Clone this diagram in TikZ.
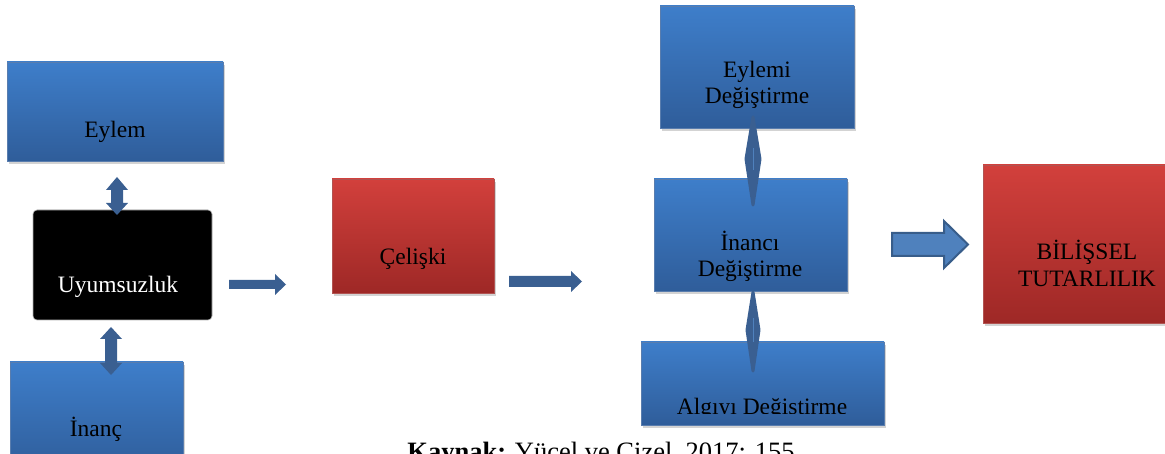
\documentclass[tikz,border=0pt]{standalone}
\usepackage{fontspec}
\setmainfont{Liberation Serif}
\usetikzlibrary{shadows}
\definecolor{bluetop}{RGB}{62,126,202}
\definecolor{bluebot}{RGB}{47,93,154}
\definecolor{redtop}{RGB}{210,64,60}
\definecolor{redbot}{RGB}{158,40,38}
\definecolor{arrowc}{RGB}{58,95,145}
\definecolor{arrowlight}{RGB}{79,129,189}
\definecolor{arrowedge}{RGB}{56,93,138}
\tikzset{
  boxbase/.style={rectangle, inner sep=0pt, draw=#1, line width=0.6pt,
    drop shadow={shadow xshift=2pt, shadow yshift=-3pt, opacity=0.35}},
  bluebox/.style={boxbase=bluebot!80!white, top color=bluetop, bottom color=bluebot},
  redbox/.style={boxbase=redbot!80!white, top color=redtop, bottom color=redbot},
  blackbox/.style={rectangle, rounded corners=4pt, fill=black, draw=gray!60, line width=0.6pt, inner sep=0pt},
  txt/.style={anchor=base, inner sep=0pt, font=\fontsize{23.5}{26}\selectfont},
  blockarrow/.style={fill=arrowc, draw=none},
  slimarrow/.style={fill=arrowc, draw=arrowc, line width=3pt, line join=round},
}
\begin{document}
\begin{tikzpicture}[x=1pt, y=-1pt]
\useasboundingbox (0,0) rectangle (1165,454);
% boxes
\node[bluebox, minimum width=216pt, minimum height=99pt] (eylem) at (115,111.5) {};
\node[blackbox, minimum width=179pt, minimum height=110pt] (uyum) at (122.5,265) {};
\node[bluebox, minimum width=173pt, minimum height=110pt] (inanc) at (96.5,417) {};
\node[redbox, minimum width=162pt, minimum height=114pt] (celiski) at (413,236) {};
\node[bluebox, minimum width=194pt, minimum height=122pt] (eylemi) at (757,67) {};
\node[bluebox, minimum width=193pt, minimum height=112pt] (inanci) at (750.5,235) {};
\node[bluebox, minimum width=243pt, minimum height=83pt] (algi) at (762.5,383.5) {};
\node[redbox, minimum width=208pt, minimum height=158pt] (bilissel) at (1087,244) {};
% texts
\node[txt] (eylemT) at (115,138) {Eylem};
\node[txt, text=white] (uyumT) at (118,293) {Uyumsuzluk};
\node[txt] (inancT) at (96,436) {İnanç};
\node[txt] (celiskiT) at (413,265) {Çelişki};
\node[txt] (eylemiT1) at (757,78) {Eylemi};
\node[txt] (eylemiT2) at (757,104) {Değiştirme};
\node[txt] (inanciT1) at (750,251) {İnancı};
\node[txt] (inanciT2) at (750,277) {Değiştirme};
\begin{scope}
\clip (641,342) rectangle (884,413.5);
\node[txt] (algiT) at (762,414) {Algıyı Değiştirme};
\end{scope}
\node[txt] (bilisselT1) at (1087,260) {BİLİŞSEL};
\node[txt] (bilisselT2) at (1087,287) {TUTARLILIK};
% double arrows left
\fill[blockarrow] (117,177) -- (128,190) -- (123,190) -- (123,203) -- (128,203) -- (117,215)
  -- (106,203) -- (111,203) -- (111,190) -- (106,190) -- cycle;
\fill[blockarrow] (111,327) -- (122,339) -- (117,339) -- (117,363) -- (122,363) -- (111,375)
  -- (100,363) -- (105,363) -- (105,339) -- (100,339) -- cycle;
% right arrows
\fill[blockarrow] (229,280) -- (275,280) -- (275,274) -- (286,284.5) -- (275,295) -- (275,289) -- (229,289) -- cycle;
\fill[blockarrow] (509,276) -- (571,276) -- (571,271) -- (582,281.5) -- (571,292) -- (571,287) -- (509,287) -- cycle;
% slim double arrows
\filldraw[slimarrow] (753,117) -- (760,159) -- (753,205) -- (746,159) -- cycle;
\draw[arrowlight, line width=1pt] (753,148) -- (753,170);
\filldraw[slimarrow] (753,292) -- (759,330) -- (753,371) -- (747,330) -- cycle;
\draw[arrowlight, line width=1pt] (753,318) -- (753,342);
% big arrow
\filldraw[fill=arrowlight, draw=arrowedge, line width=2pt] (892,233) -- (944,233) -- (944,221) -- (968,244.5)
  -- (944,268) -- (944,256) -- (892,256) -- cycle;
% caption
\node[anchor=base, inner sep=0pt, font=\fontsize{26.5}{30}\selectfont] (kaynak) at (601,460) {\textbf{Kaynak:} Yücel ve Çizel, 2017: 155};
\end{tikzpicture}
\end{document}
